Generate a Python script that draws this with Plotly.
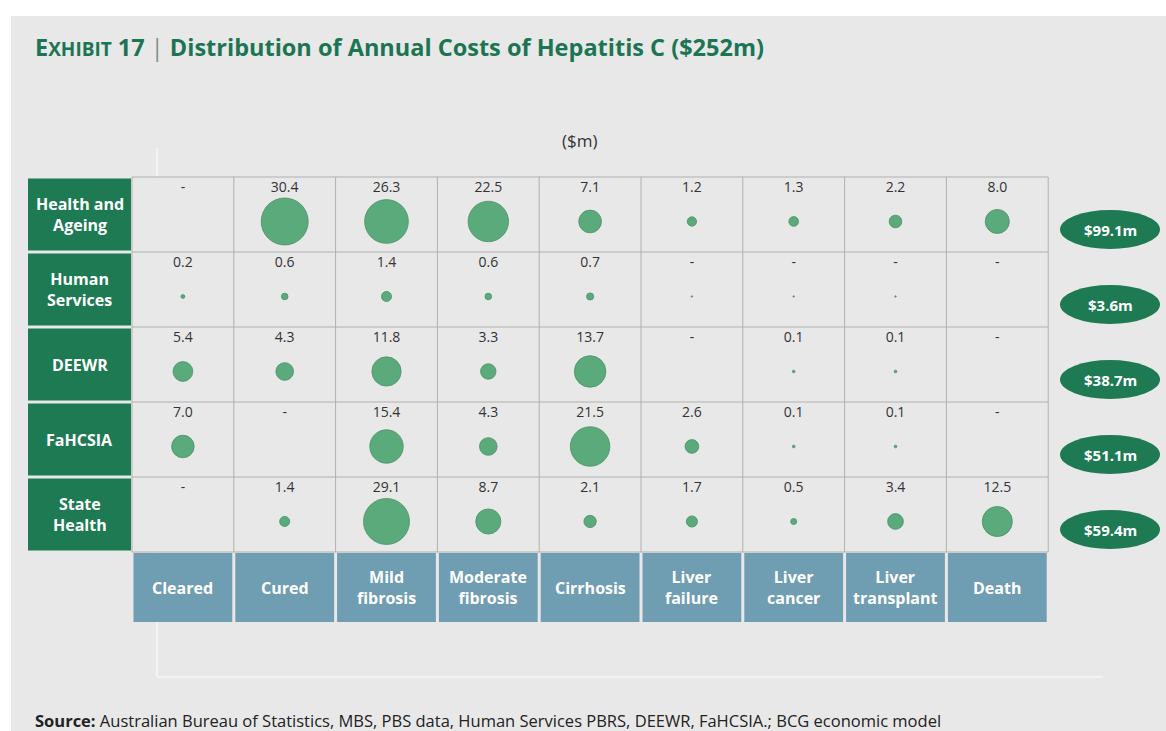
import math
import plotly.graph_objects as go

# ---------------- data ----------------
departments = ["Health and<br>Ageing", "Human<br>Services", "DEEWR", "FaHCSIA", "State<br>Health"]
stages = ["Cleared", "Cured", "Mild<br>fibrosis", "Moderate<br>fibrosis", "Cirrhosis",
          "Liver<br>failure", "Liver<br>cancer", "Liver<br>transplant", "Death"]
health_ageing = [None, 30.4, 26.3, 22.5, 7.1, 1.2, 1.3, 2.2, 8.0]
human_services = [0.2, 0.6, 1.4, 0.6, 0.7, 0.03, 0.03, 0.03, None]
deewr = [5.4, 4.3, 11.8, 3.3, 13.7, None, 0.1, 0.1, None]
fahcsia = [7.0, None, 15.4, 4.3, 21.5, 2.6, 0.1, 0.1, None]
state_health = [None, 1.4, 29.1, 8.7, 2.1, 1.7, 0.5, 3.4, 12.5]
totals = [99.1, 3.6, 38.7, 51.1, 59.4]

rows = [health_ageing, human_services, deewr, fahcsia, state_health]

# ---------------- layout helpers ----------------
W, H = 1166, 731
GRID_X0, COL_W = 132, 101.8
GRID_Y0, ROW_H = 177, 75


def px2x(p):
    return (p - GRID_X0) / COL_W - 0.5


def py2y(p):
    return (p - GRID_Y0) / ROW_H - 0.5


GREEN = "#1d7a53"
BUBBLE = "#5aaa7b"
HEADER = "#6f9db1"
GRIDC = "#b0b0b0"
MAXD = 47.0
maxv = max(v for r in rows for v in r if v is not None)

fig = go.Figure()

# bubbles
bx, by, bs = [], [], []
tx, ty, tt = [], [], []
for ri, r in enumerate(rows):
    for ci, v in enumerate(r):
        tx.append(ci)
        ty.append(ri - 0.353)
        if v is None or v < 0.05:
            tt.append("-")
        else:
            tt.append(f"{v:.1f}")
        if v is not None:
            bx.append(ci)
            by.append(ri + 0.093)
            bs.append(MAXD * math.sqrt(v / maxv))

fig.add_trace(go.Scatter(
    x=bx, y=by, mode="markers",
    marker=dict(size=bs, sizemode="diameter", color=BUBBLE,
                line=dict(color="#4b9068", width=0.8), opacity=1),
    hoverinfo="skip", showlegend=False,
))
fig.add_trace(go.Scatter(
    x=tx, y=ty, mode="text", text=tt, textposition="middle center",
    textfont=dict(family="Open Sans", size=14, color="#333333"),
    hoverinfo="skip", showlegend=False,
))

shapes = []
annotations = []

# page background (white strips at top and left)
shapes.append(dict(type="rect", xref="paper", yref="paper", x0=11 / W, x1=1, y0=0, y1=1 - 16 / H,
                   fillcolor="#e8e8e8", line=dict(width=0), layer="below"))

# faint panel frame
shapes.append(dict(type="line", x0=px2x(157), x1=px2x(157), y0=py2y(148), y1=py2y(677),
                   line=dict(color="#f7f7f7", width=1.5), layer="below"))
shapes.append(dict(type="line", x0=px2x(157), x1=px2x(1103), y0=py2y(677), y1=py2y(677),
                   line=dict(color="#f7f7f7", width=1.5), layer="below"))

# cell background over the frame inside grid
shapes.append(dict(type="rect", x0=-0.5, x1=len(stages) - 0.5, y0=-0.5, y1=len(rows) - 0.5,
                   fillcolor="#e8e8e8", line=dict(width=0), layer="below"))

# grid lines
for i in range(len(stages) + 1):
    shapes.append(dict(type="line", x0=i - 0.5, x1=i - 0.5, y0=-0.5, y1=len(rows) - 0.5,
                       line=dict(color=GRIDC, width=1), layer="below"))
for j in range(len(rows) + 1):
    shapes.append(dict(type="line", x0=-0.5, x1=len(stages) - 0.5, y0=j - 0.5, y1=j - 0.5,
                       line=dict(color=GRIDC, width=1), layer="below"))

# row label boxes
gy = 1.5 / ROW_H
for ri, name in enumerate(departments):
    shapes.append(dict(type="rect", x0=px2x(28), x1=px2x(131), y0=ri - 0.5 + gy, y1=ri + 0.5 - gy,
                       fillcolor=GREEN, line=dict(width=0), layer="below"))
    annotations.append(dict(x=(px2x(28) + px2x(131)) / 2, y=ri, text=f"<b>{name}</b>", showarrow=False,
                            font=dict(family="Open Sans", size=16, color="white"),
                            xanchor="center", yanchor="middle"))

# column header boxes
gx = 1.5 / COL_W
for ci, name in enumerate(stages):
    shapes.append(dict(type="rect", x0=ci - 0.5 + gx, x1=ci + 0.5 - gx, y0=py2y(553), y1=py2y(622),
                       fillcolor=HEADER, line=dict(width=0), layer="below"))
    annotations.append(dict(x=ci, y=(py2y(553) + py2y(622)) / 2, text=f"<b>{name}</b>", showarrow=False,
                            font=dict(family="Open Sans", size=16, color="white"),
                            xanchor="center", yanchor="middle"))

# totals ovals
oh = 19.5 / ROW_H
for ri, t in enumerate(totals):
    cy = ri + 0.2
    shapes.append(dict(type="circle", x0=px2x(1060), x1=px2x(1160), y0=cy - oh, y1=cy + oh,
                       fillcolor=GREEN, line=dict(width=0)))
    annotations.append(dict(x=px2x(1110), y=cy, text=f"<b>${t:.1f}m</b>", showarrow=False,
                            font=dict(family="Open Sans", size=15, color="white"),
                            xanchor="center", yanchor="middle"))

# title
annotations.append(dict(
    xref="paper", yref="paper", x=33 / W, y=1 - 47 / H, xanchor="left", yanchor="middle",
    text="<b>E<span style='font-size:19px'>XHIBIT</span> 17</b>"
         "<span style='color:#7a8f86'> | </span>"
         "<b>Distribution of Annual Costs of Hepatitis C ($252m)</b>",
    showarrow=False, font=dict(family="Open Sans", size=23.5, color="#1b7553"),
))

# unit label
annotations.append(dict(
    xref="paper", yref="paper", x=580 / W, y=1 - 140 / H, xanchor="center", yanchor="middle",
    text="($m)", showarrow=False, font=dict(family="Open Sans", size=17, color="#333333"),
))

# source
annotations.append(dict(
    xref="paper", yref="paper", x=33 / W, y=1 - 720 / H, xanchor="left", yanchor="middle",
    text="<b>Source:</b> Australian Bureau of Statistics, MBS, PBS data, Human Services PBRS, DEEWR, FaHCSIA.; BCG economic model",
    showarrow=False, font=dict(family="Open Sans", size=16.5, color="#222222"),
))

fig.update_layout(
    width=W, height=H,
    margin=dict(l=0, r=0, t=0, b=0),
    paper_bgcolor="white", plot_bgcolor="rgba(0,0,0,0)",
    xaxis=dict(range=[px2x(0), px2x(W)], visible=False, fixedrange=True),
    yaxis=dict(range=[py2y(H), py2y(0)], visible=False, fixedrange=True),
    shapes=shapes, annotations=annotations,
)

fig.write_html(
    "out.html",
    config={"displayModeBar": False},
    post_script="document.body.style.margin='0';document.body.style.overflow='hidden';",
)
